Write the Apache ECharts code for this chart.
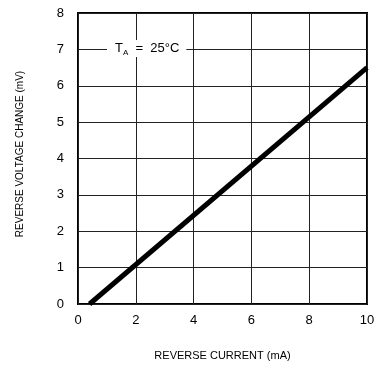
<!DOCTYPE html>
<html>
<head>
<meta charset="utf-8">
<script src="https://cdn.jsdelivr.net/npm/echarts@6/dist/echarts.min.js"></script>
<style>
  html, body { margin: 0; padding: 0; background: #fff; }
  #chart { width: 379px; height: 366px; }
</style>
</head>
<body>
<div id="chart"></div>
<script>
// Reverse current (mA) against reverse voltage change (mV)
const currentMA = [0.4, 10];
const voltageChangeMV = [0, 6.5];
const xTicks = [0, 2, 4, 6, 8, 10];
const yTicks = [0, 1, 2, 3, 4, 5, 6, 7, 8];
const xTitle = 'REVERSE CURRENT (mA)';
const yTitle = 'REVERSE VOLTAGE CHANGE (mV)';

const font = "'Liberation Sans', Arial, sans-serif";

const chart = echarts.init(document.getElementById('chart'), null, { renderer: 'canvas' });

chart.setOption({
  backgroundColor: '#fff',
  animation: false,
  grid: { left: 78, right: 12, top: 13, bottom: 60, show: true, borderColor: '#000', borderWidth: 2, backgroundColor: 'transparent' },
  xAxis: {
    type: 'value',
    min: xTicks[0], max: xTicks[xTicks.length - 1], interval: 2,
    name: xTitle, nameLocation: 'middle', nameGap: 46,
    nameTextStyle: { fontFamily: font, fontSize: 11, color: '#000' },
    axisLine: { show: false },
    axisTick: { show: false },
    axisLabel: { fontFamily: font, fontSize: 13, color: '#000', margin: 10 },
    splitLine: { show: true, lineStyle: { color: '#222', width: 1 } }
  },
  yAxis: {
    type: 'value',
    min: yTicks[0], max: yTicks[yTicks.length - 1], interval: 1,
    name: yTitle, nameLocation: 'middle', nameGap: 53,
    nameTextStyle: { fontFamily: font, fontSize: 10, color: '#000', padding: [0, 0, 0, 9] },
    axisLine: { show: false },
    axisTick: { show: false },
    axisLabel: { fontFamily: font, fontSize: 13, color: '#000', margin: 14 },
    splitLine: { show: true, lineStyle: { color: '#222', width: 1 } }
  },
  series: [{
    type: 'line',
    data: currentMA.map((x, i) => [x, voltageChangeMV[i]]),
    showSymbol: false,
    lineStyle: { color: '#000', width: 5 },
    clip: true
  }],
  graphic: [{
    type: 'text',
    left: 107, top: 40,
    z: 100,
    style: {
      text: '{t|T}{s|A}{t|  =  25°C}',
      backgroundColor: '#fff',
      padding: [2, 7, 2, 8],
      rich: {
        t: { fontFamily: font, fontSize: 13, fill: '#000', verticalAlign: 'bottom' },
        s: { fontFamily: font, fontSize: 8, fill: '#000', verticalAlign: 'bottom', padding: [0, 0, -2, 0] }
      }
    }
  }]
});
</script>
</body>
</html>
